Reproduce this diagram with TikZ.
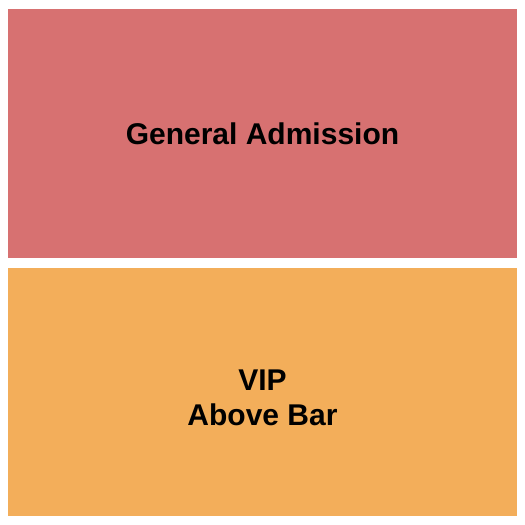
\documentclass[tikz,border=0pt]{standalone}
\usepackage{fontspec}
\setmainfont{Liberation Sans}
\definecolor{gared}{RGB}{215,113,113}
\definecolor{viporange}{RGB}{243,174,90}
\begin{document}
\begin{tikzpicture}[x=1pt,y=1pt,
  zone/.style={draw=none,inner sep=0pt,anchor=north west},
  lbl/.style={inner sep=0pt,align=center,font=\fontsize{30}{35}\selectfont\bfseries,text=black}]
\useasboundingbox (0,0) rectangle (525,-525);
\fill[white] (0,0) rectangle (525,-525);
\node[zone,fill=gared,minimum width=509pt,minimum height=249pt] (ga) at (8,-9) {};
\node[zone,fill=viporange,minimum width=509pt,minimum height=248pt] (vip) at (8,-268) {};
\node[lbl] (galbl) at (262.5,-133.5) {General Admission};
\node[lbl] (viplbl) at (262.5,-397.5) {VIP\\Above Bar};
\end{tikzpicture}
\end{document}
